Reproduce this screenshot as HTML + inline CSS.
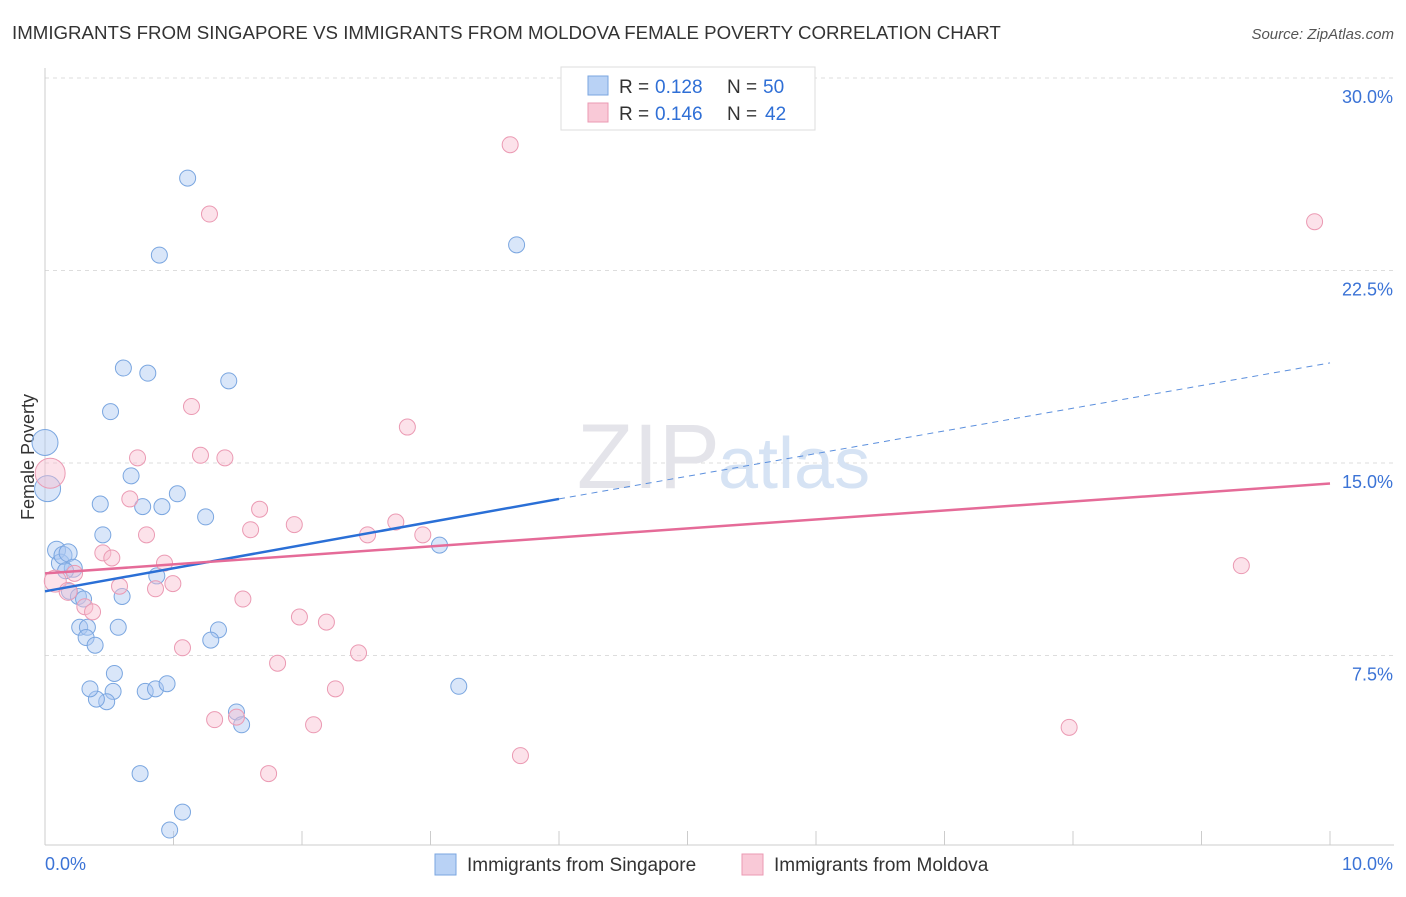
<!DOCTYPE html>
<html><head><meta charset="utf-8"><style>
body{margin:0;background:#fff;font-family:"Liberation Sans",sans-serif;}
svg text{font-family:"Liberation Sans",sans-serif;}
</style></head><body>
<svg id="c" width="1406" height="892">
<text x="12" y="39" font-size="18.7" fill="#333">IMMIGRANTS FROM SINGAPORE VS IMMIGRANTS FROM MOLDOVA FEMALE POVERTY CORRELATION CHART</text>
<text x="1394" y="39" font-size="15" fill="#555" font-style="italic" text-anchor="end">Source: ZipAtlas.com</text>
<text x="34" y="457" font-size="18" fill="#333" transform="rotate(-90 34 457)" text-anchor="middle">Female Poverty</text>
<g id="grid"></g>
<text x="720" y="488" font-size="92" fill="#e4e4ea" text-anchor="end" font-family="Liberation Serif">ZIP</text>
<text x="718" y="488" font-size="72" fill="#d6e3f4">atlas</text>
<g id="marks"></g>
<g>
<rect x="561" y="67" width="254" height="63" fill="#fff" stroke="#ddd"/>
<rect x="588" y="76" width="20" height="19" fill="#b9d2f5" stroke="#7aa6e0"/>
<rect x="588" y="103" width="20" height="19" fill="#f9c9d7" stroke="#eb9ab3"/>
<text x="619" y="93" font-size="19" fill="#333">R =</text>
<text x="655" y="93" font-size="19" fill="#2f6fd6">0.128</text>
<text x="727" y="93" font-size="19" fill="#333">N =</text>
<text x="763" y="93" font-size="19" fill="#2f6fd6">50</text>
<text x="619" y="120" font-size="19" fill="#333">R =</text>
<text x="655" y="120" font-size="19" fill="#2f6fd6">0.146</text>
<text x="727" y="120" font-size="19" fill="#333">N =</text>
<text x="765" y="120" font-size="19" fill="#2f6fd6">42</text>
</g>
<g>
<rect x="435" y="854" width="21" height="21" fill="#b9d2f5" stroke="#7aa6e0"/>
<text x="467" y="871" font-size="19" fill="#333">Immigrants from Singapore</text>
<rect x="742" y="854" width="21" height="21" fill="#f9c9d7" stroke="#eb9ab3"/>
<text x="774" y="871" font-size="19" fill="#333">Immigrants from Moldova</text>
</g>
</svg>
<script>
const yTicks=[7.5,15,22.5,30];
const xTickLabels=["0.0%","10.0%"];
const blueX=[0.0,0.02,0.09,0.12,0.14,0.18,0.22,0.16,0.19,0.26,0.30,0.27,0.33,0.32,0.39,0.43,0.45,0.51,0.61,0.67,0.80,0.89,1.11,0.76,0.91,1.03,1.25,1.43,0.87,0.60,0.57,0.54,0.53,0.48,0.40,0.35,0.78,0.86,0.95,1.35,1.29,1.49,1.53,0.74,1.07,0.97,3.07,3.22,3.67];
const blueY=[15.8,14.0,11.6,11.1,11.4,11.5,10.9,10.8,10.0,9.8,9.7,8.6,8.6,8.2,7.9,13.4,12.2,17.0,18.7,14.5,18.5,23.1,26.1,13.3,13.3,13.8,12.9,18.2,10.6,9.8,8.6,6.8,6.1,5.7,5.8,6.2,6.1,6.2,6.4,8.5,8.1,5.3,4.8,2.9,1.4,0.7,11.8,6.3,23.5];
const pinkX=[0.04,0.08,0.18,0.23,0.31,0.37,0.45,0.52,0.58,0.66,0.72,0.79,0.86,0.93,0.995,1.07,1.14,1.21,1.28,1.40,1.32,1.49,1.54,1.60,1.67,1.74,1.81,1.94,1.98,2.09,2.19,2.26,2.44,2.51,2.73,2.82,2.94,3.62,3.70,7.97,9.31,9.88];
const pinkY=[14.6,10.4,10.0,10.7,9.4,9.2,11.5,11.3,10.2,13.6,15.2,12.2,10.1,11.1,10.3,7.8,17.2,15.3,24.7,15.2,5.0,5.1,9.7,12.4,13.2,2.9,7.2,12.6,9.0,4.8,8.8,6.2,7.6,12.2,12.7,16.4,12.2,27.4,3.6,4.7,11.0,24.4];
const blueSize=[13,13,9,9,9,9,9,8,8,8,8,8,8,8,8,8,8,8,8,8,8,8,8,8,8,8,8,8,8,8,8,8,8,8,8,8,8,8,8,8,8,8,8,8,8,8,8,8,8];
const pinkSize=[15,11,9,8,8,8,8,8,8,8,8,8,8,8,8,8,8,8,8,8,8,8,8,8,8,8,8,8,8,8,8,8,8,8,8,8,8,8,8,8,8,8];
const blueTrend=[10.0,13.6,18.9];
const pinkTrend=[10.7,14.2];
const X=v=>45+v*128.5, Y=v=>848-v*25.667;
const NS="http://www.w3.org/2000/svg";
const grid=document.getElementById('grid'), marks=document.getElementById('marks');
function mk(tag,a,p){const e=document.createElementNS(NS,tag);for(const k in a)e.setAttribute(k,a[k]);p.appendChild(e);return e;}
yTicks.forEach(t=>{
 const l=mk('line',{x1:45,x2:1394,y1:Y(t),y2:Y(t),stroke:'#ddd','stroke-dasharray':'4,4'},grid);
 
 
 const tx=mk('text',{x:1393,y:Y(t)+25,'font-size':18,fill:'#3b73d6','text-anchor':'end'},grid);
 tx.textContent=t.toFixed(1)+'%';
 
 
});
const ax=mk('line',{x1:45,x2:1394,y1:845,y2:845,stroke:'#ccc'},grid);


const ay=mk('line',{x1:45,x2:45,y1:68,y2:845,stroke:'#ccc'},grid);


for(let i=0;i<=10;i++){const t=mk('line',{x1:X(i),x2:X(i),y1:831,y2:845,stroke:'#ccc'},grid);
 
 }
[[0,'start',45],[10,'end',1393]].forEach((d,i)=>{const t=mk('text',{x:d[2],y:870,'font-size':18,fill:'#3b73d6','text-anchor':d[1]},grid);t.textContent=xTickLabels[i];
 
 });
blueX.forEach((x,i)=>{const c=mk('circle',{cx:X(x),cy:Y(blueY[i]),r:blueSize[i],fill:'rgba(170,200,242,0.45)',stroke:'#7aa6e0','stroke-width':1},marks);
 
 });
pinkX.forEach((x,i)=>{const c=mk('circle',{cx:X(x),cy:Y(pinkY[i]),r:pinkSize[i],fill:'rgba(248,190,208,0.45)',stroke:'#eb9ab3','stroke-width':1},marks);
 
 });
const b1=mk('line',{x1:X(0),y1:Y(blueTrend[0]),x2:X(4),y2:Y(blueTrend[1]),stroke:'#2a6fd6','stroke-width':2.5},marks);


const b2=mk('line',{x1:X(4),y1:Y(blueTrend[1]),x2:X(10),y2:Y(blueTrend[2]),stroke:'#5b8fdd','stroke-width':1,'stroke-dasharray':'6,5'},marks);


const p1=mk('line',{x1:X(0),y1:Y(pinkTrend[0]),x2:X(10),y2:Y(pinkTrend[1]),stroke:'#e56b98','stroke-width':2.5},marks);


</script>
</body></html>
